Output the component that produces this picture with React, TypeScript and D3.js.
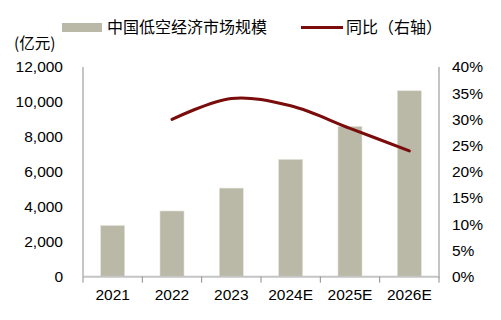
import React from "react";
import * as d3 from "d3";

const categories = ["2021", "2022", "2023", "2024E", "2025E", "2026E"];
const marketSize = [2930, 3760, 5070, 6710, 8600, 10640];
const yoyCategories = ["2022", "2023", "2024E", "2025E", "2026E"];
const yoyValues = [0.30, 0.34, 0.326, 0.283, 0.24];
const leftTicks = [0, 2000, 4000, 6000, 8000, 10000, 12000];
const rightTicks = [0, 0.05, 0.1, 0.15, 0.2, 0.25, 0.3, 0.35, 0.4];
const seriesNames = ["中国低空经济市场规模", "同比（右轴）"];
const unitLabel = "(亿元)";

const W = 501;
const H = 320;
const left = 83;
const right = 439;
const top = 67;
const bottom = 276.7;

const FONT = "Arial, 'Liberation Sans', 'Noto Sans CJK SC', sans-serif";
const CJK = "'Noto Sans CJK SC', sans-serif";
const BAR = "#bab8a6";
const LINE = "#7a0c0c";

export default function App() {
  const x = d3
    .scaleBand<string>()
    .domain(categories)
    .range([left, right])
    .paddingInner(0.595)
    .paddingOuter(0.2975);
  const step = x.step();
  const yL = d3.scaleLinear().domain([0, 12000]).range([bottom, top]);
  const yR = d3.scaleLinear().domain([0, 0.4]).range([bottom, top]);
  const fmt = d3.format(",");
  const pct = d3.format(".0%");

  const line = d3
    .line<number>()
    .x((_, i) => (x(yoyCategories[i]) as number) + x.bandwidth() / 2)
    .y((d) => yR(d))
    .curve(d3.curveCatmullRom.alpha(0.5));

  const boundaries = d3.range(categories.length + 1).map((i) => left + i * ((right - left) / categories.length));

  return (
    <svg width={W} height={H} style={{ position: "absolute", left: 0, top: 0, background: "#fff" }}>
      {/* legend */}
      <rect x={62} y={23} width={40} height={9} fill={BAR} />
      <text x={107} y={33} fontFamily={CJK} fontSize={16} fill="#000">
        {seriesNames[0]}
      </text>
      <line x1={301} x2={343} y1={27.5} y2={27.5} stroke={LINE} strokeWidth={3} />
      <text x={346} y={33} fontFamily={CJK} fontSize={16} fill="#000">
        {seriesNames[1]}
      </text>
      <text x={14} y={49} fontFamily={CJK} fontSize={15.5} fill="#000">
        {unitLabel}
      </text>

      {/* bars */}
      {categories.map((c, i) => (
        <rect
          key={c}
          x={x(c)}
          y={yL(marketSize[i])}
          width={x.bandwidth()}
          height={bottom - yL(marketSize[i])}
          fill={BAR}
          stroke="#e4e3da"
          strokeWidth={0.6}
        />
      ))}

      {/* axes */}
      <line x1={left} x2={left} y1={top} y2={bottom} stroke="#8c8c8c" strokeWidth={1} />
      <line x1={right} x2={right} y1={top} y2={bottom + 1} stroke="#c4c4c4" strokeWidth={2} />
      <line x1={left} x2={right} y1={bottom} y2={bottom} stroke="#c4c4c4" strokeWidth={2} />
      {boundaries.map((b, i) => (
        <line key={i} x1={b} x2={b} y1={bottom} y2={bottom + 6} stroke="#8c8c8c" strokeWidth={1} />
      ))}

      {leftTicks.map((t) => (
        <text key={t} x={63} y={yL(t)} dy="0.35em" textAnchor="end" fontFamily={FONT} fontSize={15.5} fill="#000">
          {fmt(t)}
        </text>
      ))}
      {rightTicks.map((t) => (
        <text key={t} x={452} y={yR(t)} dy="0.35em" textAnchor="start" fontFamily={FONT} fontSize={15.5} fill="#000">
          {pct(t)}
        </text>
      ))}
      {categories.map((c) => (
        <text
          key={c}
          x={(x(c) as number) + x.bandwidth() / 2}
          y={295}
          dy="0.35em"
          textAnchor="middle"
          fontFamily={FONT}
          fontSize={15.5}
          fill="#000"
        >
          {c}
        </text>
      ))}

      {/* line */}
      <path d={line(yoyValues) || ""} fill="none" stroke={LINE} strokeWidth={3} strokeLinecap="round" />
      {step > 0 ? null : null}
    </svg>
  );
}
